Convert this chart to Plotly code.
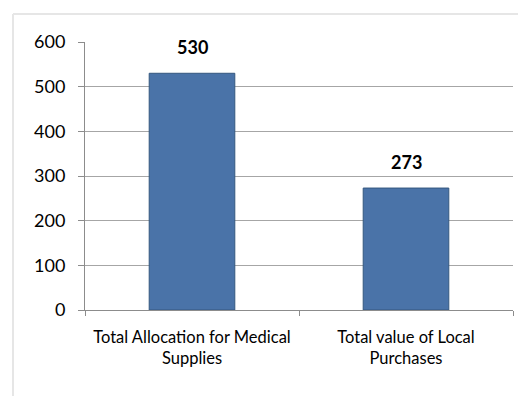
import plotly.graph_objects as go

categories = ["Total Allocation for Medical<br>Supplies", "Total value of Local<br>Purchases"]
values = [530, 273]
value_labels = ["530", "273"]
y_ticks = [0, 100, 200, 300, 400, 500, 600]

# page body has an 8px margin; figure is sized to fit the window
W, H = 518, 388
ml, mr, mt, mb = 77, 13, 34, 86

fig = go.Figure()
fig.add_trace(go.Bar(
    x=categories, y=values,
    marker=dict(color="#4A73A8", line=dict(color="#34577F", width=1)),
    hoverinfo="skip",
))

for c, v, t in zip(categories, values, value_labels):
    fig.add_annotation(x=c, y=v, text="<b>" + t + "</b>", showarrow=False,
                       yanchor="bottom", yshift=13,
                       font=dict(family="Lato", size=18, color="#000000"))

fig.update_layout(
    width=W, height=H,
    margin=dict(l=ml, r=mr, t=mt, b=mb),
    paper_bgcolor="white", plot_bgcolor="white",
    bargap=0.6,
    showlegend=False,
    font=dict(family="Lato", size=16, color="#000000"),
)
fig.update_yaxes(
    range=[0, 600], tickvals=y_ticks,
    showgrid=True, gridcolor="#A6A6A6", gridwidth=1,
    showline=True, linecolor="#8C8C8C", linewidth=1,
    ticks="outside", ticklen=6, tickcolor="#8C8C8C",
    ticklabelstandoff=9,
    tickfont=dict(family="Lato", size=18, color="#000000"),
    zeroline=False,
)
fig.update_xaxes(
    showline=True, linecolor="#8C8C8C", linewidth=1,
    ticks="outside", ticklen=5, tickcolor="#8C8C8C",
    tickson="boundaries",
    ticklabelstandoff=12,
    tickfont=dict(family="Lato", size=16.5, color="#000000"),
)

# chart frame (light gray border at top and left)
pw = W - ml - mr
ph = H - mt - mb
x_left = (5 - ml) / pw
y_top = 1 + (mt - 6) / ph
fig.add_shape(type="line", xref="paper", yref="paper",
              x0=x_left, x1=(W - ml) / pw, y0=y_top, y1=y_top,
              line=dict(color="#E6E6E6", width=2))
fig.add_shape(type="line", xref="paper", yref="paper",
              x0=x_left, x1=x_left, y0=y_top, y1=-mb / ph,
              line=dict(color="#E6E6E6", width=2))

fig.write_html("out.html")
